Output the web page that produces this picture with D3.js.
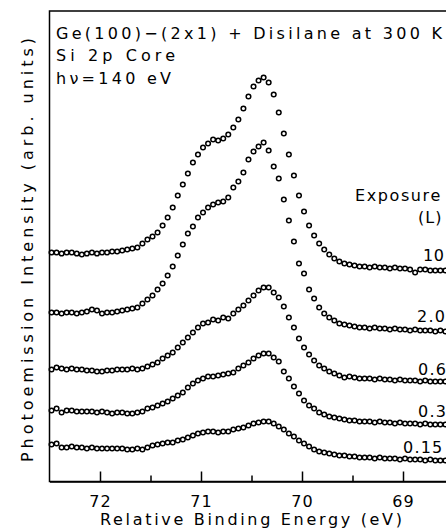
<!DOCTYPE html>
<html>
<head>
<meta charset="utf-8">
<script src="https://cdn.jsdelivr.net/npm/d3@7"></script>
<style>
  body { margin: 0; background: #fff; overflow: hidden; }
  svg { display: block; }
  text { font-family: "DejaVu Sans", sans-serif; fill: #000; }
</style>
</head>
<body>
<svg id="chart" width="446" height="529"></svg>
<script>
// Si 2p core-level spectra, Ge(100)-(2x1) dosed with disilane at 300 K.
// Binding energy grid (eV), 0.05 eV steps from 72.48 eV downward.
const energies = d3.range(79).map(i => +(72.48 - 0.05 * i).toFixed(2));

// Exposures in Langmuir, top curve first.
const exposures = ["10", "2.0", "0.6", "0.3", "0.15"];

// Photoemission intensity (arb. units), spectra already offset vertically.
const s10 = [
  229,229,228,229,229,228,227,228,229,228,229,229,230,230,
  231,232,233,234,238,242,245,249,256,264,
  274,286,297,308,319,327,334,338,342,341,
  343,347,354,362,373,385,395,401,404,399,
  387,369,348,327,306,286,270,256,246,238,
  232,227,223,220,218,217,216,215,215,214,
  215,214,214,213,214,213,213,212,209,212,
  212,211,211,211,211
];
const s2 = [
  169,169,168,169,169,168,169,170,172,171,168,169,169,170,
  171,172,173,174,178,182,186,192,198,206,
  215,226,237,248,255,264,269,274,277,279,
  280,284,294,300,309,322,330,335,339,331,
  315,303,282,261,240,218,208,192,183,174,
  168,164,161,158,157,156,155,154,154,153,
  154,153,153,152,153,152,152,151,152,151,
  151,151,150,151,150
];
const s06 = [
  112,114,113,112,113,112,112,111,111,110,110,111,111,112,
  112,112,113,112,113,115,117,119,123,126,
  129,134,139,144,149,154,158,159,162,161,
  164,163,168,172,176,181,186,191,194,194,
  189,184,175,164,154,143,134,127,121,116,
  113,110,108,106,104,105,104,103,103,103,
  102,103,102,102,101,102,101,101,101,100,
  101,100,100,100,100
];
const s03 = [
  71,73,69,71,71,70,70,70,70,69,70,69,68,69,
  69,68,68,69,70,73,74,76,78,80,
  83,86,89,94,98,101,103,105,105,106,
  107,108,109,113,116,119,123,126,128,128,
  124,120,110,103,95,88,81,76,73,69,
  67,65,64,63,62,61,61,60,60,60,
  59,60,59,59,58,59,58,58,58,57,
  58,57,57,57,57
];
const s015 = [
  37,38,34,34,35,34,34,33,34,33,33,33,33,33,
  33,32,32,33,32,34,36,37,38,39,
  39,41,42,44,46,48,49,50,50,49,
  50,50,52,53,54,56,58,59,60,60,
  58,55,52,48,45,41,38,35,32,30,
  29,28,27,26,26,25,25,24,24,24,
  23,24,23,23,23,22,23,22,22,22,
  21,22,21,21,21
];
const seriesValues = [s10, s2, s06, s03, s015];

const majorTicks = [72, 71, 70, 69];
const minorTicks = [71.5, 70.5, 69.5, 68.5];

// Layout
const svg = d3.select("#chart");
const x = d3.scaleLinear().domain([72.5, 68.5]).range([49.5, 453.5]);
const y = d3.scaleLinear().domain([0, 470.5]).range([481.5, 11]);

// Frame (right edge runs past the window)
svg.append("rect")
  .attr("x", x(72.5)).attr("y", y(470.5))
  .attr("width", x(68.5) - x(72.5)).attr("height", y(0) - y(470.5))
  .attr("fill", "none").attr("stroke", "#000").attr("stroke-width", 1.5);

// Bottom axis: inward major and minor ticks
const axisMajor = d3.axisBottom(x).tickValues(majorTicks)
  .tickSize(-10).tickSizeOuter(0).tickPadding(14).tickFormat(d3.format("d"));
const gx = svg.append("g").attr("transform", `translate(0,${y(0)})`).call(axisMajor);
gx.select(".domain").attr("stroke-width", 1.5);
gx.selectAll(".tick line").attr("stroke-width", 1.5);
gx.selectAll(".tick text")
  .attr("font-family", "DejaVu Sans, sans-serif")
  .attr("font-size", 16).attr("letter-spacing", 1.2).attr("fill", "#000");

const axisMinor = d3.axisBottom(x).tickValues(minorTicks)
  .tickSize(-6).tickSizeOuter(0).tickFormat("");
const gm = svg.append("g").attr("transform", `translate(0,${y(0)})`).call(axisMinor);
gm.select(".domain").remove();
gm.selectAll(".tick line").attr("stroke-width", 1.5);

// Axis titles
svg.append("text")
  .attr("x", 251).attr("y", 525).attr("text-anchor", "middle")
  .attr("font-size", 16).attr("textLength", 302).attr("lengthAdjust", "spacing")
  .text("Relative Binding Energy (eV)");

svg.append("text")
  .attr("transform", "translate(33,250) rotate(-90)")
  .attr("text-anchor", "middle").attr("font-size", 16)
  .attr("textLength", 424).attr("lengthAdjust", "spacing")
  .text("Photoemission Intensity (arb. units)");

// Header text
const header = [
  { t: "Ge(100)\u2212(2x1) + Disilane at 300 K", y: 38.5, w: 386 },
  { t: "Si 2p Core", y: 61, w: 119 },
  { t: "h\u03bd=140 eV", y: 83.5, w: 115 }
];
svg.selectAll("text.hdr").data(header).join("text")
  .attr("class", "hdr").attr("x", 56).attr("y", d => d.y)
  .attr("font-size", 16).attr("textLength", d => d.w).attr("lengthAdjust", "spacing")
  .text(d => d.t);

// Spectra as open circles
const gS = svg.append("g");
seriesValues.forEach(vals => {
  gS.append("g").selectAll("circle")
    .data(vals.map((v, i) => [energies[i], v]))
    .join("circle")
    .attr("cx", d => x(d[0])).attr("cy", d => y(d[1]))
    .attr("r", 2.3).attr("fill", "none")
    .attr("stroke", "#000").attr("stroke-width", 1.5);
});

// Exposure legend and curve labels
svg.append("text").attr("x", 355).attr("y", 201).attr("font-size", 16)
  .attr("letter-spacing", 1.6).text("Exposure");
svg.append("text").attr("x", 418).attr("y", 223).attr("font-size", 16)
  .attr("letter-spacing", 1).text("(L)");

const labelPos = [
  { x: 423, y: 260.5 },
  { x: 417, y: 321.5 },
  { x: 418, y: 375 },
  { x: 418, y: 417 },
  { x: 403, y: 453 }
];
svg.selectAll("text.exp").data(exposures).join("text")
  .attr("class", "exp")
  .attr("x", (d, i) => labelPos[i].x).attr("y", (d, i) => labelPos[i].y)
  .attr("font-size", 16).attr("letter-spacing", (d, i) => i === 0 ? 0.5 : 1.2)
  .text(d => d);
</script>
</body>
</html>
